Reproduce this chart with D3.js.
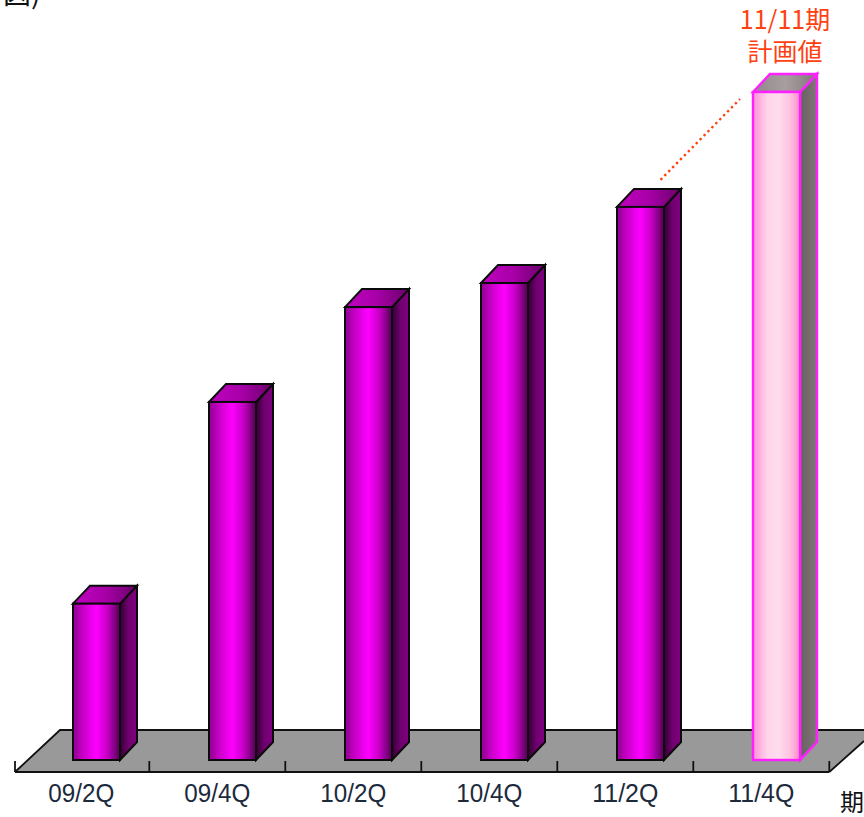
<!DOCTYPE html>
<html><head><meta charset="utf-8">
<script src="https://cdnjs.cloudflare.com/ajax/libs/d3/7.8.5/d3.min.js"></script>
<style>html,body{margin:0;padding:0;background:#fff;overflow:hidden}svg{display:block}</style></head>
<body><svg id="c" width="864" height="817"></svg>
<script>
const categories = ["09/2Q","09/4Q","10/2Q","10/4Q","11/2Q","11/4Q"];
const values = [23.4,53.6,67.8,71.4,82.8,100];
const planned = [false,false,false,false,false,true];
const planLabel = ["11/11期","計画値"];
const axisUnit = "期";
const cornerText = "図)";

const jp = '"Noto Sans CJK JP","Noto Sans",sans-serif';
const svg = d3.select("#c");
const x = d3.scaleBand().domain(categories).range([13.3,829.3]).paddingInner(0).paddingOuter(0);
const y = d3.scaleLinear().domain([0,100]).range([760,92]);
const barW = 47, dx = 17, dy = 18, shift = 15.2;
const defs = svg.append("defs");
function grad(id, stops){
  const g = defs.append("linearGradient").attr("id",id);
  stops.forEach(s=>g.append("stop").attr("offset",s[0]).attr("stop-color",s[1]));
}
grad("front",[[0,"#900090"],[.25,"#d000d0"],[.5,"#ff00ff"],[.75,"#c000c0"],[1,"#500050"]]);
grad("side",[[0,"#300030"],[.5,"#700070"],[1,"#800080"]]);
grad("top",[[0,"#c000c0"],[.5,"#a800a8"],[1,"#680068"]]);
grad("pfront",[[0,"#ff90d8"],[.3,"#ffd4ea"],[.55,"#ffdcee"],[.8,"#ffc0e0"],[1,"#ff88cc"]]);
grad("pside",[[0,"#686060"],[1,"#807878"]]);
grad("ptop",[[0,"#908888"],[.5,"#a89ea0"],[1,"#807878"]]);

// floor
const x0=15, x1=x.range()[1], fy=772, by=730;
svg.append("path").attr("d",`M${x0},${fy}L${x0+45},${by}L864,${by}L864,741L${x1},${fy}Z`).attr("fill","#999");
svg.append("path").attr("d",`M${x0},${fy}L${x0+45},${by}L864,${by}`).attr("fill","none").attr("stroke","#111").attr("stroke-width",1.8);
svg.append("path").attr("d",`M864,741L${x1},${fy}`).attr("fill","none").attr("stroke","#111").attr("stroke-width",1.8);

// axis labels + baseline
const ax = svg.append("g").attr("transform",`translate(0,${fy})`).call(d3.axisBottom(x).tickSize(0).tickPadding(12));
ax.select(".domain").attr("stroke","#111").attr("stroke-width",2).attr("d",`M${x0},0H${x1}`);
ax.selectAll("text").attr("font-family",'"Liberation Sans",sans-serif').attr("font-size",25).attr("fill","#1c2a3c")
  .attr("textLength",66).attr("lengthAdjust","spacingAndGlyphs");
svg.append("g").selectAll("line").data(d3.range(categories.length+1)).join("line")
  .attr("x1",i=>Math.max(x0,x.range()[0]+i*x.step())).attr("x2",i=>Math.max(x0,x.range()[0]+i*x.step())).attr("y1",761).attr("y2",fy)
  .attr("stroke","#111").attr("stroke-width",1.8);

// bars
const g = svg.append("g").selectAll("g").data(categories).join("g");
g.each(function(c,i){
  const s=d3.select(this), p=planned[i];
  const L=x(c)+x.bandwidth()/2+shift-barW/2, R=L+barW, T=y(values[i]), B=y(0);
  const st=p?"#ff20ff":"#0a0a0a", sw=p?2.4:2;
  s.append("path").attr("d",`M${R},${T}L${R+dx},${T-dy}L${R+dx},${B-dy}L${R},${B}Z`)
    .attr("fill",`url(#${p?"pside":"side"})`).attr("stroke",st).attr("stroke-width",sw);
  s.append("path").attr("d",`M${L},${T}L${L+dx},${T-dy}L${R+dx},${T-dy}L${R},${T}Z`)
    .attr("fill",`url(#${p?"ptop":"top"})`).attr("stroke",st).attr("stroke-width",sw);
  s.append("rect").attr("x",L).attr("y",T).attr("width",barW).attr("height",B-T)
    .attr("fill",`url(#${p?"pfront":"front"})`).attr("stroke",st).attr("stroke-width",sw);
});

// annotation
const red="#ff4010";
const idx=categories.length-1;
const ax0=x(categories[idx-1])+x.bandwidth()/2+shift+20, ay0=y(values[idx-1])-27;
svg.append("line").attr("x1",ax0).attr("y1",ay0).attr("x2",740).attr("y2",99)
  .attr("stroke",red).attr("stroke-width",2.4).attr("stroke-dasharray","2.4 3.2");
svg.append("g").selectAll("text").data(planLabel).join("text")
  .attr("x",785).attr("y",(d,i)=>29+i*32).attr("text-anchor","middle")
  .attr("font-family",jp).attr("font-size",25).attr("fill",red).text(d=>d);
svg.append("text").attr("x",840).attr("y",811).attr("font-family",jp).attr("font-size",24).attr("fill","#111").text(axisUnit);
svg.append("text").attr("x",3).attr("y",4).attr("font-family",jp).attr("font-size",28).attr("fill","#111").text(cornerText);
</script></body></html>
